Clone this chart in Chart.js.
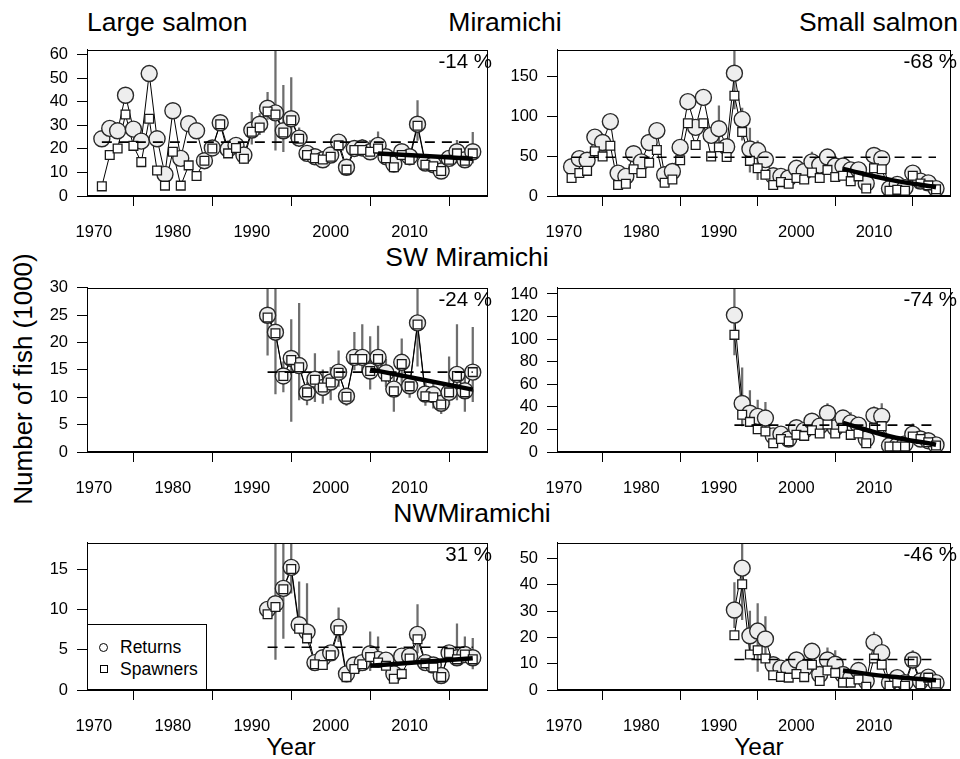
<!DOCTYPE html>
<html>
<head>
<meta charset="utf-8">
<script src="https://cdn.jsdelivr.net/npm/chart.js@4.4.1/dist/chart.umd.min.js"></script>
<style>
  html, body { margin: 0; padding: 0; background: #fff; }
  body { width: 960px; height: 759px; position: relative; overflow: hidden;
         font-family: "Liberation Sans", Arial, sans-serif; color: #000; }
  canvas { position: absolute; }
  .txt { position: absolute; white-space: nowrap; line-height: 1; }
  .legend { position: absolute; left: 87px; top: 624px; width: 120px; height: 66px;
            border: 1px solid #000; background: #fff; box-sizing: border-box; }
  .sym { position: absolute; box-sizing: border-box; border: 1.3px solid #000; background: #fff; }
</style>
</head>
<body>

<div class="txt" style="left:87px; top:8.5px; font-size:26.5px;">Large salmon</div>
<div class="txt" style="left:505px; top:8.5px; font-size:26.5px; transform:translateX(-50%);">Miramichi</div>
<div class="txt" style="right:2px; top:8.5px; font-size:26.5px;">Small salmon</div>
<div class="txt" style="left:467px; top:244px; font-size:26.5px; transform:translateX(-50%);">SW Miramichi</div>
<div class="txt" style="left:472px; top:500px; font-size:26.5px; transform:translateX(-50%);">NWMiramichi</div>
<div class="txt" style="left:23px; top:379px; font-size:26px; transform:translate(-50%,-50%) rotate(-90deg);">Number of fish (1000)</div>
<div class="txt" style="left:291px; top:734.5px; font-size:24.5px; transform:translateX(-50%);">Year</div>
<div class="txt" style="left:759px; top:734.5px; font-size:24.5px; transform:translateX(-50%);">Year</div>

<canvas id="p1"></canvas>
<canvas id="p2"></canvas>
<canvas id="p3"></canvas>
<canvas id="p4"></canvas>
<canvas id="p5"></canvas>
<canvas id="p6"></canvas>

<div class="txt" style="right:468px; top:50.6px; font-size:20.5px;">-14 %</div>
<div class="txt" style="right:3px; top:50.6px; font-size:20.5px;">-68 %</div>
<div class="txt" style="right:468px; top:288.6px; font-size:20.5px;">-24 %</div>
<div class="txt" style="right:3px; top:288.6px; font-size:20.5px;">-74 %</div>
<div class="txt" style="right:468px; top:544px; font-size:20.5px;">31 %</div>
<div class="txt" style="right:3px; top:544px; font-size:20.5px;">-46 %</div>

<div class="legend">
  <div class="sym" style="left:11px; top:18px; width:9px; height:9px; border-radius:50%;"></div>
  <div class="txt" style="left:32px; top:14px; font-size:17.5px;">Returns</div>
  <div class="sym" style="left:11.5px; top:40px; width:8px; height:8px;"></div>
  <div class="txt" style="left:32px; top:35.5px; font-size:17.5px;">Spawners</div>
</div>

<script>
/******************* DATA *******************/
const YEARS_MIR = [1971, 1972, 1973, 1974, 1975, 1976, 1977, 1978, 1979, 1980,
  1981, 1982, 1983, 1984, 1985, 1986, 1987, 1988, 1989, 1990,
  1991, 1992, 1993, 1994, 1995, 1996, 1997, 1998, 1999, 2000,
  2001, 2002, 2003, 2004, 2005, 2006, 2007, 2008, 2009, 2010,
  2011, 2012, 2013, 2014, 2015, 2016, 2017, 2018];
const YEARS_SUB = [1992, 1993, 1994, 1995, 1996, 1997, 1998, 1999, 2000,
  2001, 2002, 2003, 2004, 2005, 2006, 2007, 2008, 2009, 2010,
  2011, 2012, 2013, 2014, 2015, 2016, 2017, 2018];

const X_TICKS = [1970, 1980, 1990, 2000, 2010];

// Miramichi, large salmon
const mirLargeReturns = [24.3, 28.7, 27.7, 42.8, 28.4, 23.3, 52, 24.3, 9.2, 36.2,
  16, 30.7, 27.7, 15, 20.4, 31.1, 19.9, 21.5, 17.4, 28,
  30.5, 37.3, 35.3, 27.7, 32.8, 24.6, 18.1, 16.7, 15.4, 17.4,
  22.9, 12.2, 20.2, 20.4, 18.8, 21.5, 16.7, 13.6, 18.8, 16.7,
  30.5, 14, 13.3, 10.6, 16, 18.8, 15.4, 18.8];
const mirLargeSpawners = [4.1, 17.4, 20.2, 34.6, 21.3, 14.4, 32.8, 10.8, 4.4, 18.8,
  4.4, 13, 8.5, 15, 20.2, 30.5, 18.1, 20.4, 15.8, 27.3,
  29.1, 35.9, 34.6, 27, 32.2, 24.3, 17.4, 16, 15.5, 16.7,
  21.5, 11.2, 19.5, 19.5, 18.8, 20.2, 16, 12.2, 17.4, 15.4,
  29.8, 13.3, 12.6, 10.6, 15.4, 18.1, 15, 18.1];
const mirLargeErrYears = [1990, 1991, 1992, 1993, 1994, 1995, 1996, 2004, 2005, 2006, 2011, 2016, 2018];
const mirLargeErrLo = [22, 26, 32.5, 19.5, 18.8, 24.3, 21, 18, 16, 18, 23.6, 14, 14];
const mirLargeErrHi = [35.5, 35, 44, 62, 47, 50.3, 29, 24, 23.5, 27.3, 40.5, 23.6, 27];
const mirLargeMean = 22.9;
const mirLargeTrendYears = [2006, 2018];
const mirLargeTrend = [18.1, 15.8];

// Miramichi, small salmon
const mirSmallReturns = [36.7, 46.8, 44.8, 73.8, 67, 93.2, 28.7, 24.6, 52.9, 42.8,
  67, 81.9, 26.6, 30.7, 60.9, 118.2, 86, 123.5, 75.9, 84.3,
  61.7, 153.8, 96, 58.9, 56.9, 45.6, 25.4, 24.6, 22.6, 34.7,
  30.7, 42.8, 38.7, 48.8, 37.5, 37.5, 32.7, 32.7, 15.7, 50.8,
  46.8, 9.3, 14.5, 10.5, 28.7, 18.6, 16.5, 9.3];
const mirSmallSpawners = [22.6, 28.7, 31.5, 56.1, 49.6, 63, 13.7, 15.3, 33.5, 28.7,
  41.6, 57.7, 16.5, 20.6, 44.8, 91.2, 63.8, 91.2, 49.6, 61,
  48.8, 125.5, 80.3, 44, 34.7, 26.6, 13.7, 17.4, 15.3, 22.6,
  20.6, 29.5, 22.6, 32.7, 23.8, 25.4, 18.6, 24.6, 9.3, 34.7,
  33.5, 6.5, 7.7, 6.5, 25.4, 15.7, 13.3, 8.5];
const mirSmallErrYears = [1990, 1992, 1993, 1994, 1995, 2002, 2010, 2011];
const mirSmallErrLo = [57, 109, 70, 30, 20.6, 30, 38, 35];
const mirSmallErrHi = [113, 183, 110, 85, 69, 55, 60, 55];
const mirSmallMean = 48.5;
const mirSmallTrendYears = [2006, 2012, 2018];
const mirSmallTrend = [34, 20.5, 11];

// SW Miramichi, large salmon
const swLargeReturns = [25, 21.9, 13.9, 17.1, 15.8, 10.9, 13.3, 11.8, 12.8,
  14.6, 10.2, 17.3, 17.3, 14.8, 17.3, 14.5, 11.5, 16.4, 12.1,
  23.6, 10.6, 10.5, 8.9, 10.9, 14.2, 11.2, 14.6];
const swLargeSpawners = [24.6, 21.7, 13.9, 16.8, 15.5, 10.9, 13.2, 11.8, 12.7,
  14.5, 10.1, 17, 17, 14.8, 17, 13.8, 11.1, 16.1, 12,
  23.3, 10.2, 10, 8.7, 10.9, 13.9, 10.9, 14.6];
const swLargeErrYears = YEARS_SUB;
const swLargeErrLo = [17.7, 10.6, 11, 5.6, 9.5, 8.6, 9.2, 8.9, 9.5,
  12, 8.5, 15, 14.5, 11.5, 14.5, 12, 7.4, 12.7, 10,
  15.7, 8.5, 8, 7, 8.6, 9.5, 7.4, 9.2];
const swLargeErrHi = [30, 30, 16.5, 24.2, 27.2, 12.7, 18, 15, 15.5,
  18.5, 11.5, 21.9, 23.3, 21.1, 23, 17, 13.9, 20.7, 14,
  30, 13, 12.5, 10.5, 17.4, 23.3, 14.5, 22.8];
const swLargeMean = 14.6;
const swLargeTrendYears = [2005, 2018];
const swLargeTrend = [15.1, 11.4];

// SW Miramichi, small salmon
const swSmallReturns = [121.3, 43, 34.4, 31.6, 30.1, 14.3, 15.8, 11.5, 21.5,
  19.2, 27.3, 22.9, 34.4, 21.5, 30.1, 25.8, 23.8, 11.5, 32.4,
  31.6, 5.7, 5.7, 7.2, 15.8, 11.5, 10, 6.3];
const swSmallSpawners = [103.8, 33, 26.7, 20.1, 18.1, 7.7, 11.5, 9.5, 15.2,
  14.3, 19.2, 16.4, 24.4, 16.4, 21.5, 15.2, 16.4, 7.7, 21.5,
  22.9, 4.9, 4.9, 4.9, 13.8, 11.5, 8.6, 5.7];
const swSmallErrYears = [1992, 1993, 1994, 1995, 1996, 2004, 2007, 2010, 2011, 2015];
const swSmallErrLo = [86, 23, 24.4, 18.6, 18, 23, 18, 22, 18.6, 10];
const swSmallErrHi = [145, 74.6, 54.5, 45.9, 44, 43, 35, 40, 43, 25];
const swSmallMean = 23.8;
const swSmallTrendYears = [2006, 2012, 2018];
const swSmallTrend = [25.8, 14, 6.5];

// NW Miramichi, large salmon
const nwLargeReturns = [10, 10.7, 12.6, 15.2, 8.1, 7.2, 3.4, 4, 4.6,
  7.8, 2, 3.1, 3.4, 4.5, 3.8, 3.7, 2, 4.2, 4.2,
  6.9, 3.4, 3.1, 1.8, 4.6, 4, 4.4, 4];
const nwLargeSpawners = [9.4, 10.3, 12.5, 15, 7.6, 6.4, 3.2, 3.1, 4.3,
  7.4, 1.6, 2.6, 3.2, 4.1, 3.4, 3, 1.4, 2, 3.9,
  6.3, 3.3, 2.8, 1.6, 4.6, 3.8, 4.4, 3.8];
const nwLargeErrYears = [1993, 1994, 1995, 1996, 1997, 2001, 2005, 2006, 2011, 2016, 2017, 2018];
const nwLargeErrLo = [3.8, 6.4, 12, 7.2, 6, 6, 2.4, 3, 4.6, 3.2, 3.4, 2.6];
const nwLargeErrHi = [18.3, 18.3, 18.3, 13.4, 13.2, 10.2, 7.2, 6.6, 10.6, 8.2, 6.6, 6.4];
const nwLargeMean = 5.3;
const nwLargeTrendYears = [2005, 2018];
const nwLargeTrend = [3.0, 3.95];

// NW Miramichi, small salmon
const nwSmallReturns = [30.4, 46.3, 20.6, 22.4, 19.4, 9.6, 8.3, 8.3, 11.4,
  8.3, 14.7, 5.9, 11.4, 9.8, 5.9, 4.7, 7.4, 3.4, 18.1,
  14.2, 2.8, 4.7, 2.8, 11.4, 3.4, 4.9, 2.8];
const nwSmallSpawners = [20.8, 40.2, 13.5, 15.1, 12, 5.6, 5, 4.7, 6.1,
  4.9, 9.6, 3.4, 7.4, 6.5, 2.8, 2.8, 4, 1.2, 12,
  9.6, 1.6, 2.8, 1.6, 10.8, 2.2, 4.7, 2.5];
const nwSmallErrYears = [1992, 1993, 1994, 1995, 1996, 2004, 2005, 2010, 2015];
const nwSmallErrLo = [23.7, 26.7, 12, 7.1, 12, 7.4, 6.5, 12, 8];
const nwSmallErrHi = [40.8, 55.9, 30, 32.8, 27.9, 16, 15, 22, 15];
const nwSmallMean = 11.6;
const nwSmallTrendYears = [2006, 2012, 2018];
const nwSmallTrend = [7.4, 5.1, 3.7];

/******************* LAYOUT *******************/
const X_MIN = 1969.12, X_MAX = 2019.88;
const YAXIS_W = 60, PAD_TOP = 14, XAXIS_H = 45;
const FONT = '"Liberation Sans", Arial, sans-serif';

Chart.defaults.font.family = FONT;
Chart.defaults.color = '#000';

// R-style closed box around the plot region
const boxPlugin = {
  id: 'box',
  afterDraw(chart) {
    const a = chart.chartArea, ctx = chart.ctx;
    ctx.save();
    ctx.strokeStyle = '#000';
    ctx.lineWidth = 1;
    ctx.strokeRect(Math.round(a.left) + 0.5, Math.round(a.top) + 0.5,
      Math.round(a.right - a.left) - 1, Math.round(a.bottom - a.top) - 1);
    ctx.restore();
  }
};

function pts(xs, ys) {
  return xs.map((x, i) => ({ x: x, y: ys[i] }));
}

function makePanel(id, box, padRight, yMax, yTicks, years, returns, spawners,
                   errYears, errLo, errHi, mean, trendYears, trend) {
  const cv = document.getElementById(id);
  const w = box[2] - box[0] + YAXIS_W + padRight;
  const h = box[3] - box[1] + PAD_TOP + XAXIS_H;
  cv.width = w; cv.height = h;
  cv.style.left = (box[0] - YAXIS_W) + 'px';
  cv.style.top = (box[1] - PAD_TOP) + 'px';

  const axisCommon = {
    type: 'linear',
    grid: { display: true, drawOnChartArea: false, drawTicks: true, tickLength: 10, color: '#000', lineWidth: 1 },
    border: { display: true, color: '#000', width: 1 },
  };

  return new Chart(cv, {
    type: 'line',
    data: {
      datasets: [
        { // CI bars
          type: 'bar',
          data: errYears.map((x, i) => ({ x: x, y: [errLo[i], errHi[i]] })),
          backgroundColor: '#6e6e6e',
          barThickness: 1.6,
          grouped: false,
          order: 5
        },
        { // spawners connecting line
          data: pts(years, spawners),
          borderColor: '#000', borderWidth: 1,
          pointRadius: 0, order: 4
        },
        { // returns
          data: pts(years, returns),
          borderColor: '#000', borderWidth: 1,
          pointRadius: 8, pointBackgroundColor: '#eeeeee',
          pointBorderColor: '#2a2a2a', pointBorderWidth: 1.4,
          order: 3
        },
        { // spawners markers
          data: pts(years, spawners),
          showLine: false,
          pointStyle: 'rect', pointRadius: 6.2,
          pointBackgroundColor: '#ffffff', pointBorderColor: '#1a1a1a', pointBorderWidth: 1.3,
          order: 2
        },
        { // long-term mean
          data: pts([years[0], years[years.length - 1]], [mean, mean]),
          borderColor: '#000', borderWidth: 1.6, borderDash: [10, 7],
          pointRadius: 0, order: 1
        },
        { // recent trend
          data: pts(trendYears, trend),
          borderColor: '#000', borderWidth: 4.5, tension: 0.4,
          pointRadius: 0, order: 0
        }
      ]
    },
    options: {
      responsive: false,
      animation: false,
      devicePixelRatio: 1,
      layout: { padding: { top: PAD_TOP, right: padRight, left: 0, bottom: 0 } },
      plugins: { legend: { display: false }, tooltip: { enabled: false } },
      scales: {
        x: Object.assign({}, axisCommon, {
          position: 'bottom',
          min: X_MIN, max: X_MAX, offset: false,
          afterFit: s => { s.height = XAXIS_H; },
          afterBuildTicks: s => { s.ticks = X_TICKS.map(v => ({ value: v })); },
          ticks: { font: { size: 16.5 }, color: '#000', padding: 17, maxRotation: 0, autoSkip: false,
                   callback: v => String(v) }
        }),
        y: Object.assign({}, axisCommon, {
          position: 'left',
          min: 0, max: yMax,
          afterFit: s => { s.width = YAXIS_W; },
          afterBuildTicks: s => { s.ticks = yTicks.map(v => ({ value: v })); },
          ticks: { font: { size: 16.5 }, color: '#000', padding: 9, autoSkip: false,
                   callback: v => String(v) }
        })
      }
    },
    plugins: [boxPlugin]
  });
}

makePanel('p1', [87, 45, 493, 196], 4, 62.05, [0, 10, 20, 30, 40, 50, 60], YEARS_MIR,
  mirLargeReturns, mirLargeSpawners, mirLargeErrYears, mirLargeErrLo, mirLargeErrHi,
  mirLargeMean, mirLargeTrendYears, mirLargeTrend);
makePanel('p2', [557, 45, 959, 196], 1, 183, [0, 50, 100, 150], YEARS_MIR,
  mirSmallReturns, mirSmallSpawners, mirSmallErrYears, mirSmallErrLo, mirSmallErrHi,
  mirSmallMean, mirSmallTrendYears, mirSmallTrend);
makePanel('p3', [87, 283, 493, 452], 4, 30, [0, 5, 10, 15, 20, 25, 30], YEARS_SUB,
  swLargeReturns, swLargeSpawners, swLargeErrYears, swLargeErrLo, swLargeErrHi,
  swLargeMean, swLargeTrendYears, swLargeTrend);
makePanel('p4', [557, 283, 959, 452], 1, 145.4, [0, 20, 40, 60, 80, 100, 120, 140], YEARS_SUB,
  swSmallReturns, swSmallSpawners, swSmallErrYears, swSmallErrLo, swSmallErrHi,
  swSmallMean, swSmallTrendYears, swSmallTrend);
makePanel('p5', [87, 538, 493, 690], 4, 18.24, [0, 5, 10, 15], YEARS_SUB,
  nwLargeReturns, nwLargeSpawners, nwLargeErrYears, nwLargeErrLo, nwLargeErrHi,
  nwLargeMean, nwLargeTrendYears, nwLargeTrend);
makePanel('p6', [557, 538, 959, 690], 1, 55.9, [0, 10, 20, 30, 40, 50], YEARS_SUB,
  nwSmallReturns, nwSmallSpawners, nwSmallErrYears, nwSmallErrLo, nwSmallErrHi,
  nwSmallMean, nwSmallTrendYears, nwSmallTrend);
</script>
</body>
</html>
